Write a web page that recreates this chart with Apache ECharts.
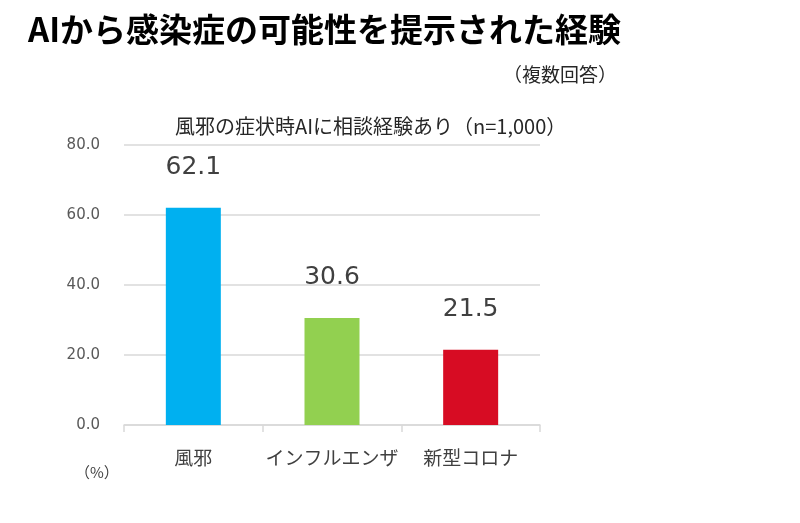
<!DOCTYPE html>
<html>
<head>
<meta charset="utf-8">
<script src="https://cdn.jsdelivr.net/npm/echarts@6/dist/echarts.min.js"></script>
<style>
  html, body { margin: 0; padding: 0; background: #fff; }
  #chart { width: 800px; height: 523px; }
</style>
</head>
<body>
<div id="chart"></div>
<script>
// データ
const categories = ['風邪', 'インフルエンザ', '新型コロナ']
const values = [62.1, 30.6, 21.5]
const barColors = ['#00B0F0', '#92D050', '#D70C23']
const yTicks = [0, 20, 40, 60, 80]

const cjk = '"Noto Sans CJK JP", "Noto Sans", sans-serif'
const num = '"DejaVu Sans", Verdana, sans-serif'

const chart = echarts.init(document.getElementById('chart'))

const option = {
  backgroundColor: '#fff',
  animation: false,
  title: [
    {
      text: 'AIから感染症の可能性を提示された経験',
      left: 23, top: 8,
      textStyle: { fontFamily: cjk, fontSize: 33, fontWeight: 'bold', color: '#000' }
    },
    {
      text: '（複数回答）',
      right: 178, top: 60,
      textStyle: { fontFamily: cjk, fontSize: 19, fontWeight: 'normal', color: '#262626' }
    },
    {
      text: '風邪の症状時AIに相談経験あり（n=1,000）',
      left: 170, top: 111,
      textStyle: { fontFamily: cjk, fontSize: 20, fontWeight: 'normal', color: '#262626' }
    },
    {
      text: '（%）',
      left: 70, top: 460,
      textStyle: { fontFamily: cjk, fontSize: 15, fontWeight: 'normal', color: '#404040' }
    }
  ],
  grid: { left: 124, right: 260, top: 145, bottom: 98 },
  xAxis: {
    type: 'category',
    data: categories,
    axisLine: { lineStyle: { color: '#d9d9d9', width: 1.5 } },
    axisTick: { show: true, alignWithLabel: false, length: 7, lineStyle: { color: '#d9d9d9', width: 1.5 } },
    axisLabel: { interval: 0, fontFamily: cjk, fontSize: 19, color: '#404040', margin: 23 }
  },
  yAxis: {
    type: 'value',
    min: yTicks[0],
    max: yTicks[yTicks.length - 1],
    interval: yTicks[1] - yTicks[0],
    axisLine: { show: false },
    axisTick: { show: false },
    splitLine: { lineStyle: { color: '#d9d9d9', width: 1.5 } },
    axisLabel: {
      fontFamily: num, fontSize: 15, color: '#595959', margin: 24,
      formatter: v => v.toFixed(1)
    }
  },
  series: [{
    type: 'bar',
    barWidth: 55,
    data: values.map((v, i) => ({ value: v, itemStyle: { color: barColors[i] } })),
    label: {
      show: true,
      position: 'top',
      distance: 28,
      fontFamily: num,
      fontSize: 25,
      color: '#404040',
      formatter: p => p.value.toFixed(1)
    }
  }]
}

chart.setOption(option)
window.addEventListener('resize', () => chart.resize())
</script>
</body>
</html>
